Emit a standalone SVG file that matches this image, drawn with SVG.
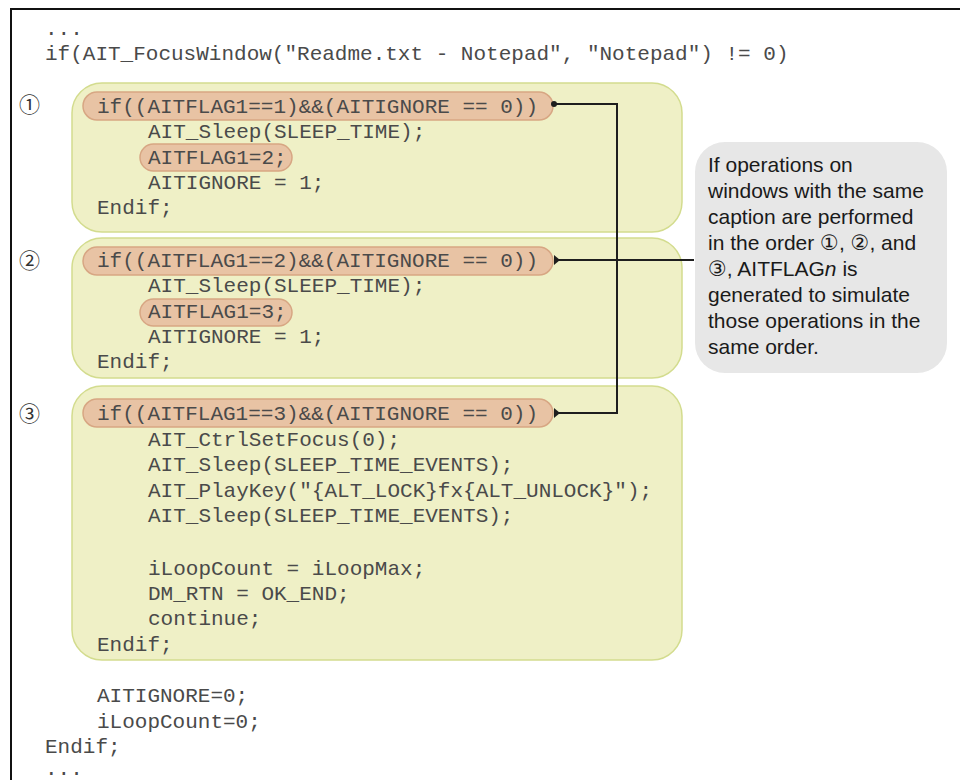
<svg xmlns="http://www.w3.org/2000/svg" width="960" height="780" viewBox="0 0 960 780">
  <style>
    .code { font-family: "Liberation Mono", "Courier New", monospace; font-size: 21px; fill: #4a4a4a; }
    .num { font-family: "Noto Sans CJK JP", "DejaVu Sans", sans-serif; font-size: 21px; fill: #333; }
    .block { fill: #eff0c6; stroke: #d3dc8e; stroke-width: 1.5; }
    .pill { fill: #e8c3a4; stroke: #d7a683; stroke-width: 1.5; }
    .note { fill: #e7e7e7; }
    .notetext { font-family: "Liberation Sans", "DejaVu Sans", Arial, sans-serif; font-size: 21px; fill: #1a1a1a; }
    .wire { fill: none; stroke: #1e1e1e; stroke-width: 2; }
  </style>

  <rect width="960" height="780" fill="#ffffff"/>
  <!-- frame (open to the right and bottom) -->
  <rect x="11" y="9" width="980" height="800" fill="none" stroke="#111" stroke-width="2"/>

  <!-- outer code -->
  <g id="outer-head">
    <text class="code" x="45" y="35">...</text>
    <text class="code" x="45" y="60">if(AIT_FocusWindow("Readme.txt - Notepad", "Notepad") != 0)</text>
  </g>

  <!-- block 1 -->
  <g id="block1">
    <rect class="block" x="72" y="83" width="610" height="149" rx="30"/>
    <rect class="pill" x="83" y="92" width="470" height="28" rx="14"/>
    <rect class="pill" x="140" y="144" width="152" height="27" rx="13.5"/>
    <text class="num" x="19" y="112">①</text>
    <text class="code" x="97" y="113">if((AITFLAG1==1)&amp;&amp;(AITIGNORE == 0))</text>
    <text class="code" x="148" y="138">AIT_Sleep(SLEEP_TIME);</text>
    <text class="code" x="148" y="164">AITFLAG1=2;</text>
    <text class="code" x="148" y="189">AITIGNORE = 1;</text>
    <text class="code" x="97" y="214">Endif;</text>
  </g>

  <!-- block 2 -->
  <g id="block2">
    <rect class="block" x="72" y="238" width="610" height="140" rx="30"/>
    <rect class="pill" x="83" y="247" width="470" height="28" rx="14"/>
    <rect class="pill" x="140" y="299" width="152" height="27" rx="13.5"/>
    <text class="num" x="19" y="268">②</text>
    <text class="code" x="97" y="267">if((AITFLAG1==2)&amp;&amp;(AITIGNORE == 0))</text>
    <text class="code" x="148" y="292">AIT_Sleep(SLEEP_TIME);</text>
    <text class="code" x="148" y="318">AITFLAG1=3;</text>
    <text class="code" x="148" y="343">AITIGNORE = 1;</text>
    <text class="code" x="97" y="368">Endif;</text>
  </g>

  <!-- block 3 -->
  <g id="block3">
    <rect class="block" x="72" y="386" width="610" height="274" rx="30"/>
    <rect class="pill" x="83" y="399" width="470" height="28" rx="14"/>
    <text class="num" x="19" y="421">③</text>
    <text class="code" x="97" y="420">if((AITFLAG1==3)&amp;&amp;(AITIGNORE == 0))</text>
    <text class="code" x="148" y="446">AIT_CtrlSetFocus(0);</text>
    <text class="code" x="148" y="471">AIT_Sleep(SLEEP_TIME_EVENTS);</text>
    <text class="code" x="148" y="497">AIT_PlayKey("{ALT_LOCK}fx{ALT_UNLOCK}");</text>
    <text class="code" x="148" y="522">AIT_Sleep(SLEEP_TIME_EVENTS);</text>
    <text class="code" x="148" y="575">iLoopCount = iLoopMax;</text>
    <text class="code" x="148" y="600">DM_RTN = OK_END;</text>
    <text class="code" x="148" y="625">continue;</text>
    <text class="code" x="97" y="651">Endif;</text>
  </g>

  <!-- outer tail -->
  <g id="outer-tail">
    <text class="code" x="97" y="702">AITIGNORE=0;</text>
    <text class="code" x="97" y="728">iLoopCount=0;</text>
    <text class="code" x="45" y="753">Endif;</text>
    <text class="code" x="45" y="775">...</text>
  </g>

  <!-- explanatory note -->
  <g id="note">
    <rect class="note" x="695" y="142" width="252" height="231" rx="30"/>
    <text class="notetext" x="708" y="172">If operations on</text>
    <text class="notetext" x="708" y="198">windows with the same</text>
    <text class="notetext" x="708" y="224">caption are performed</text>
    <text class="notetext" x="708" y="250">in the order ①, ②, and</text>
    <text class="notetext" x="708" y="276">③, AITFLAG<tspan font-style="italic">n</tspan> is</text>
    <text class="notetext" x="708" y="302">generated to simulate</text>
    <text class="notetext" x="708" y="328">those operations in the</text>
    <text class="notetext" x="708" y="354">same order.</text>
  </g>

  <!-- connectors -->
  <g id="connectors">
    <path class="wire" d="M553,104 H617 V413 H558"/>
    <circle cx="554" cy="104" r="3" fill="#1e1e1e"/>
    <path d="M554,408 L560,413 L554,418 Z" fill="#1e1e1e"/>
    <path class="wire" d="M556,260 H694"/>
    <path d="M554,255 L560,260 L554,265 Z" fill="#1e1e1e"/>
  </g>
</svg>
